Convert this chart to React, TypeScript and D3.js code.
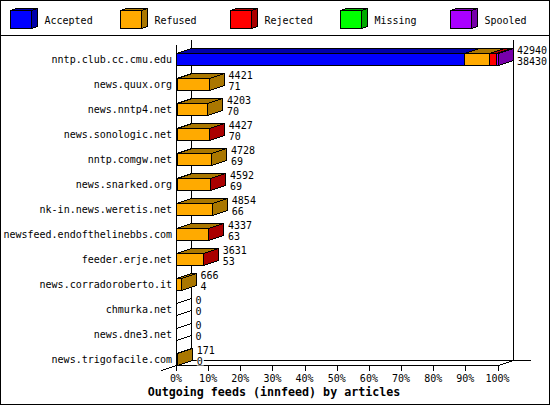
import React from "react";
import * as d3 from "d3";

const hosts = [
  "nntp.club.cc.cmu.edu",
  "news.quux.org",
  "news.nntp4.net",
  "news.sonologic.net",
  "nntp.comgw.net",
  "news.snarked.org",
  "nk-in.news.weretis.net",
  "newsfeed.endofthelinebbs.com",
  "feeder.erje.net",
  "news.corradoroberto.it",
  "chmurka.net",
  "news.dne3.net",
  "news.trigofacile.com",
];
const offered = [42940, 4421, 4203, 4427, 4728, 4592, 4854, 4337, 3631, 666, 0, 0, 171];
const accepted = [38430, 71, 70, 70, 69, 69, 66, 63, 53, 4, 0, 0, 0];
const refused = [3430, 4350, 4133, 4337, 4659, 4503, 4788, 4244, 3548, 662, 0, 0, 171];
const rejected = [880, 0, 0, 20, 0, 20, 0, 30, 30, 0, 0, 0, 0];
const missing = [0, 0, 0, 0, 0, 0, 0, 0, 0, 0, 0, 0, 0];
const spooled = [200, 0, 0, 0, 0, 0, 0, 0, 0, 0, 0, 0, 0];

const seriesNames = ["Accepted", "Refused", "Rejected", "Missing", "Spooled"];
const frontColors = ["#0000ff", "#ffaa00", "#ff0000", "#00ff00", "#aa00ff"];
const sideColors = ["#0000aa", "#aa7700", "#aa0000", "#00aa00", "#7700aa"];
const ticks = [0, 10, 20, 30, 40, 50, 60, 70, 80, 90, 100];

const mono = "'DejaVu Sans Mono', monospace";

const x = d3.scaleLinear().domain([0, 100]).range([176.5, 498]);
const rowY = d3.scaleLinear().domain([0, 12]).range([53.5, 353.5]);
const pct = (v: number) => (v / offered[0]) * 100;
const snap = (v: number) => Math.floor(v) + 0.5;

const Box = ({x0, x1, y, color, h = 12, dx = 15, dy = 5}:
               {x0: number; x1: number; y: number; color: number; h?: number; dx?: number; dy?: number}) => {
  const top = d3.path();
  top.moveTo(x0, y);
  top.lineTo(x0 + dx, y - dy);
  top.lineTo(x1 + dx, y - dy);
  top.lineTo(x1, y);
  top.closePath();
  const side = d3.path();
  side.moveTo(x1, y);
  side.lineTo(x1 + dx, y - dy);
  side.lineTo(x1 + dx, y + h - dy);
  side.lineTo(x1, y + h);
  side.closePath();
  return (
    <g stroke="#000" strokeWidth={1} shapeRendering="crispEdges">
      <path d={top.toString()} fill={sideColors[color]}/>
      <path d={side.toString()} fill={sideColors[color]}/>
      <rect x={x0} y={y} width={x1 - x0} height={h} fill={frontColors[color]}/>
    </g>
  );
};

const Label = ({px, py, text, anchor = "start", bold = false}:
                 {px: number; py: number; text: string; anchor?: string; bold?: boolean}) => (
  <text
    x={px}
    y={py}
    textAnchor={anchor as any}
    fontFamily={mono}
    fontSize={bold ? 11.67 : 10}
    fontWeight={bold ? "bold" : "normal"}
    fill="#000"
  >
    {text}
  </text>
);

export default function App() {
  const series = [accepted, refused, rejected, missing, spooled];
  return (
    <svg
      width={550}
      height={405}
      style={{position: "absolute", left: 0, top: 0, background: "#fff"}}
    >
      <rect x={0.5} y={0.5} width={549} height={404} fill="#fff" stroke="#000" shapeRendering="crispEdges"/>
      <line x1={0} x2={550} y1={35.5} y2={35.5} stroke="#000" shapeRendering="crispEdges"/>

      {seriesNames.map((name, i) => {
        const lx = 10.5 + i * 110;
        return (
          <g key={name}>
            <Box x0={lx} x1={lx + 21} y={10.5} color={i} h={18} dx={6} dy={2}/>
            <Label px={lx + 34} py={24} text={name}/>
          </g>
        );
      })}

      <g stroke="#000" shapeRendering="crispEdges">
        <line x1={176.5} x2={176.5} y1={45} y2={365}/>
        <line x1={191.5} x2={191.5} y1={40} y2={360}/>
        <line x1={513.5} x2={513.5} y1={40} y2={360}/>
        <line x1={191.5} x2={531} y1={360.5} y2={360.5}/>
        <line x1={176.5} x2={498.5} y1={365.5} y2={365.5}/>
        {ticks.map(t => (
          <line key={t} x1={snap(x(t))} x2={snap(x(t))} y1={365} y2={371}/>
        ))}
        <line x1={161.5} x2={176.5} y1={370.5} y2={365.5}/>
        <line x1={176.5} x2={191.5} y1={365.5} y2={360.5}/>
        <line x1={498.5} x2={513.5} y1={365.5} y2={360.5}/>
      </g>

      {hosts.map((host, i) => {
        const y = rowY(i);
        let cum = 0;
        const boxes: React.ReactNode[] = [];
        series.forEach((s, k) => {
          if (s[i] > 0) {
            const x0 = snap(x(pct(cum)));
            cum += s[i];
            boxes.push(<Box key={k} x0={x0} x1={snap(x(pct(cum)))} y={y} color={k}/>);
          }
        });
        const end = x(pct(offered[i])) + 15;
        const second = String(accepted[i]);
        return (
          <g key={host}>
            {cum === 0 && (
              <g stroke="#000" shapeRendering="crispEdges">
                <line x1={176.5} x2={191.5} y1={y} y2={y - 5}/>
                <line x1={176.5} x2={191.5} y1={y + 12} y2={y + 7}/>
              </g>
            )}
            {boxes}
            <Label px={172} py={y + 9} text={host} anchor="end"/>
            <Label px={end + 4} py={y + 0.5} text={String(offered[i])}/>
            <rect x={end + 4} y={y + 2} width={second.length * 6 + 1} height={10} fill="#fff"/>
            <Label px={end + 4} py={y + 11.5} text={second}/>
          </g>
        );
      })}

      {ticks.map(t => (
        <Label key={t} px={x(t) - 0.5} py={381.5} text={`${t}%`} anchor="middle"/>
      ))}
      <Label px={274} py={396} text="Outgoing feeds (innfeed) by articles" anchor="middle" bold/>
    </svg>
  );
}
